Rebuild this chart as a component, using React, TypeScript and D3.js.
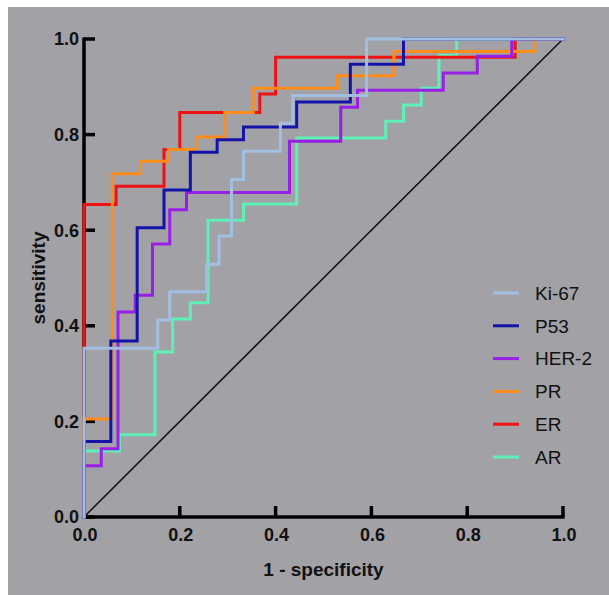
import React from "react";
import * as d3 from "d3";

const seriesNames = ["Ki-67", "P53", "HER-2", "PR", "ER", "AR"];
const seriesColors = ["#a2bfe2", "#1414a8", "#9a1fe6", "#ff8c1a", "#ee1212", "#5ef0b6"];

const ki67Fpr = [0, 0, 0.154, 0.179, 0.256, 0.282, 0.308, 0.333, 0.41, 0.436, 0.59, 1];
const ki67Tpr = [0, 0.353, 0.412, 0.471, 0.529, 0.588, 0.706, 0.765, 0.824, 0.882, 1, 1];

const p53Fpr = [0, 0, 0.056, 0.111, 0.167, 0.222, 0.278, 0.333, 0.444, 0.556, 0.667, 1];
const p53Tpr = [0, 0.158, 0.368, 0.605, 0.684, 0.763, 0.789, 0.816, 0.868, 0.947, 1, 1];

const her2Fpr = [0, 0, 0.036, 0.071, 0.107, 0.143, 0.179, 0.214, 0.429, 0.536, 0.571, 0.75, 0.821, 0.893, 1];
const her2Tpr = [0, 0.107, 0.143, 0.429, 0.464, 0.571, 0.643, 0.679, 0.786, 0.857, 0.893, 0.929, 0.964, 1, 1];

const prFpr = [0, 0, 0.059, 0.118, 0.176, 0.235, 0.294, 0.353, 0.529, 0.647, 0.941, 1];
const prTpr = [0, 0.205, 0.718, 0.744, 0.769, 0.795, 0.846, 0.897, 0.923, 0.974, 1, 1];

const erFpr = [0, 0, 0.067, 0.167, 0.2, 0.367, 0.4, 0.9, 1];
const erTpr = [0, 0.654, 0.692, 0.769, 0.846, 0.885, 0.962, 1, 1];

const arFpr = [0, 0, 0.074, 0.148, 0.185, 0.222, 0.259, 0.333, 0.444, 0.63, 0.667, 0.704, 0.741, 0.778, 1];
const arTpr = [0, 0.138, 0.172, 0.345, 0.414, 0.448, 0.621, 0.655, 0.793, 0.828, 0.862, 0.897, 0.966, 1, 1];

const allFpr = [ki67Fpr, p53Fpr, her2Fpr, prFpr, erFpr, arFpr];
const allTpr = [ki67Tpr, p53Tpr, her2Tpr, prTpr, erTpr, arTpr];

const tickValues = [0, 0.2, 0.4, 0.6, 0.8, 1.0];
const tickLabels = ["0.0", "0.2", "0.4", "0.6", "0.8", "1.0"];

const W = 609;
const H = 595;
const FONT = "'Liberation Sans', Arial, Helvetica, sans-serif";

export default function App() {
  const x = d3.scaleLinear().domain([0, 1]).range([84, 563]);
  const y = d3.scaleLinear().domain([0, 1]).range([517, 39]);

  const line = d3
    .line<[number, number]>()
    .x((d) => x(d[0]))
    .y((d) => y(d[1]))
    .curve(d3.curveStepAfter);

  const diag = d3
    .line<[number, number]>()
    .x((d) => x(d[0]))
    .y((d) => y(d[1]));

  // draw order: reverse of legend so Ki-67 is on top
  const order = [5, 4, 3, 2, 1, 0];

  const legendX0 = 493;
  const legendX1 = 519;
  const legendTextX = 535;
  const legendY0 = 293;
  const legendStep = 32.8;

  return (
    <svg
      width={W}
      height={H}
      style={{ position: "absolute", left: 0, top: 0, display: "block" }}
    >
      <rect x={0} y={0} width={W} height={H} fill="#ffffff" />
      <rect x={8} y={7} width={W - 8} height={H - 7} fill="#a2a1a6" />

      {/* axes */}
      <line x1={x(0)} y1={y(1) - 1.5} x2={x(0)} y2={y(0) + 1.5} stroke="#000" strokeWidth={3.5} />
      <line x1={x(0) - 1.5} y1={y(0)} x2={x(1) + 1.5} y2={y(0)} stroke="#000" strokeWidth={3.5} />
      {tickValues.map((t, i) => (
        <g key={"yt" + i}>
          <line x1={x(0)} x2={x(0) + 11} y1={y(t)} y2={y(t)} stroke="#000" strokeWidth={3.5} />
          <text
            x={79}
            y={y(t)}
            dy="0.36em"
            textAnchor="end"
            fontFamily={FONT}
            fontWeight="bold"
            fontSize={18}
            fill="#111"
          >
            {tickLabels[i]}
          </text>
        </g>
      ))}
      {tickValues.map((t, i) => (
        <g key={"xt" + i}>
          <line x1={x(t)} x2={x(t)} y1={y(0)} y2={y(0) - 11} stroke="#000" strokeWidth={3.5} />
          <text
            x={x(t) + 1}
            y={541}
            textAnchor="middle"
            fontFamily={FONT}
            fontWeight="bold"
            fontSize={18}
            fill="#111"
          >
            {tickLabels[i]}
          </text>
        </g>
      ))}

      {/* diagonal */}
      <path d={diag([[0, 0], [1, 1]]) || ""} fill="none" stroke="#111" strokeWidth={1.5} />

      {/* curves */}
      {order.map((si) => {
        const pts: [number, number][] = allFpr[si].map((f, j) => [f, allTpr[si][j]]);
        return (
          <path
            key={"c" + si}
            d={line(pts) || ""}
            fill="none"
            stroke={seriesColors[si]}
            strokeWidth={3}
            strokeLinejoin="miter"
            strokeLinecap="square"
          />
        );
      })}

      {/* legend */}
      {seriesNames.map((name, i) => (
        <g key={"lg" + i}>
          <line
            x1={legendX0}
            x2={legendX1}
            y1={legendY0 + i * legendStep}
            y2={legendY0 + i * legendStep}
            stroke={seriesColors[i]}
            strokeWidth={3}
          />
          <text
            x={legendTextX}
            y={legendY0 + i * legendStep}
            dy="0.36em"
            fontFamily={FONT}
            fontSize={19}
            fill="#111"
          >
            {name}
          </text>
        </g>
      ))}

      {/* axis titles */}
      <text
        x={x(0.5)}
        y={576}
        textAnchor="middle"
        fontFamily={FONT}
        fontWeight="bold"
        fontSize={19}
        fill="#111"
      >
        1 - specificity
      </text>
      <text
        transform={`translate(45, ${y(0.5)}) rotate(-90)`}
        textAnchor="middle"
        fontFamily={FONT}
        fontWeight="bold"
        fontSize={19}
        fill="#111"
      >
        sensitivity
      </text>
    </svg>
  );
}
